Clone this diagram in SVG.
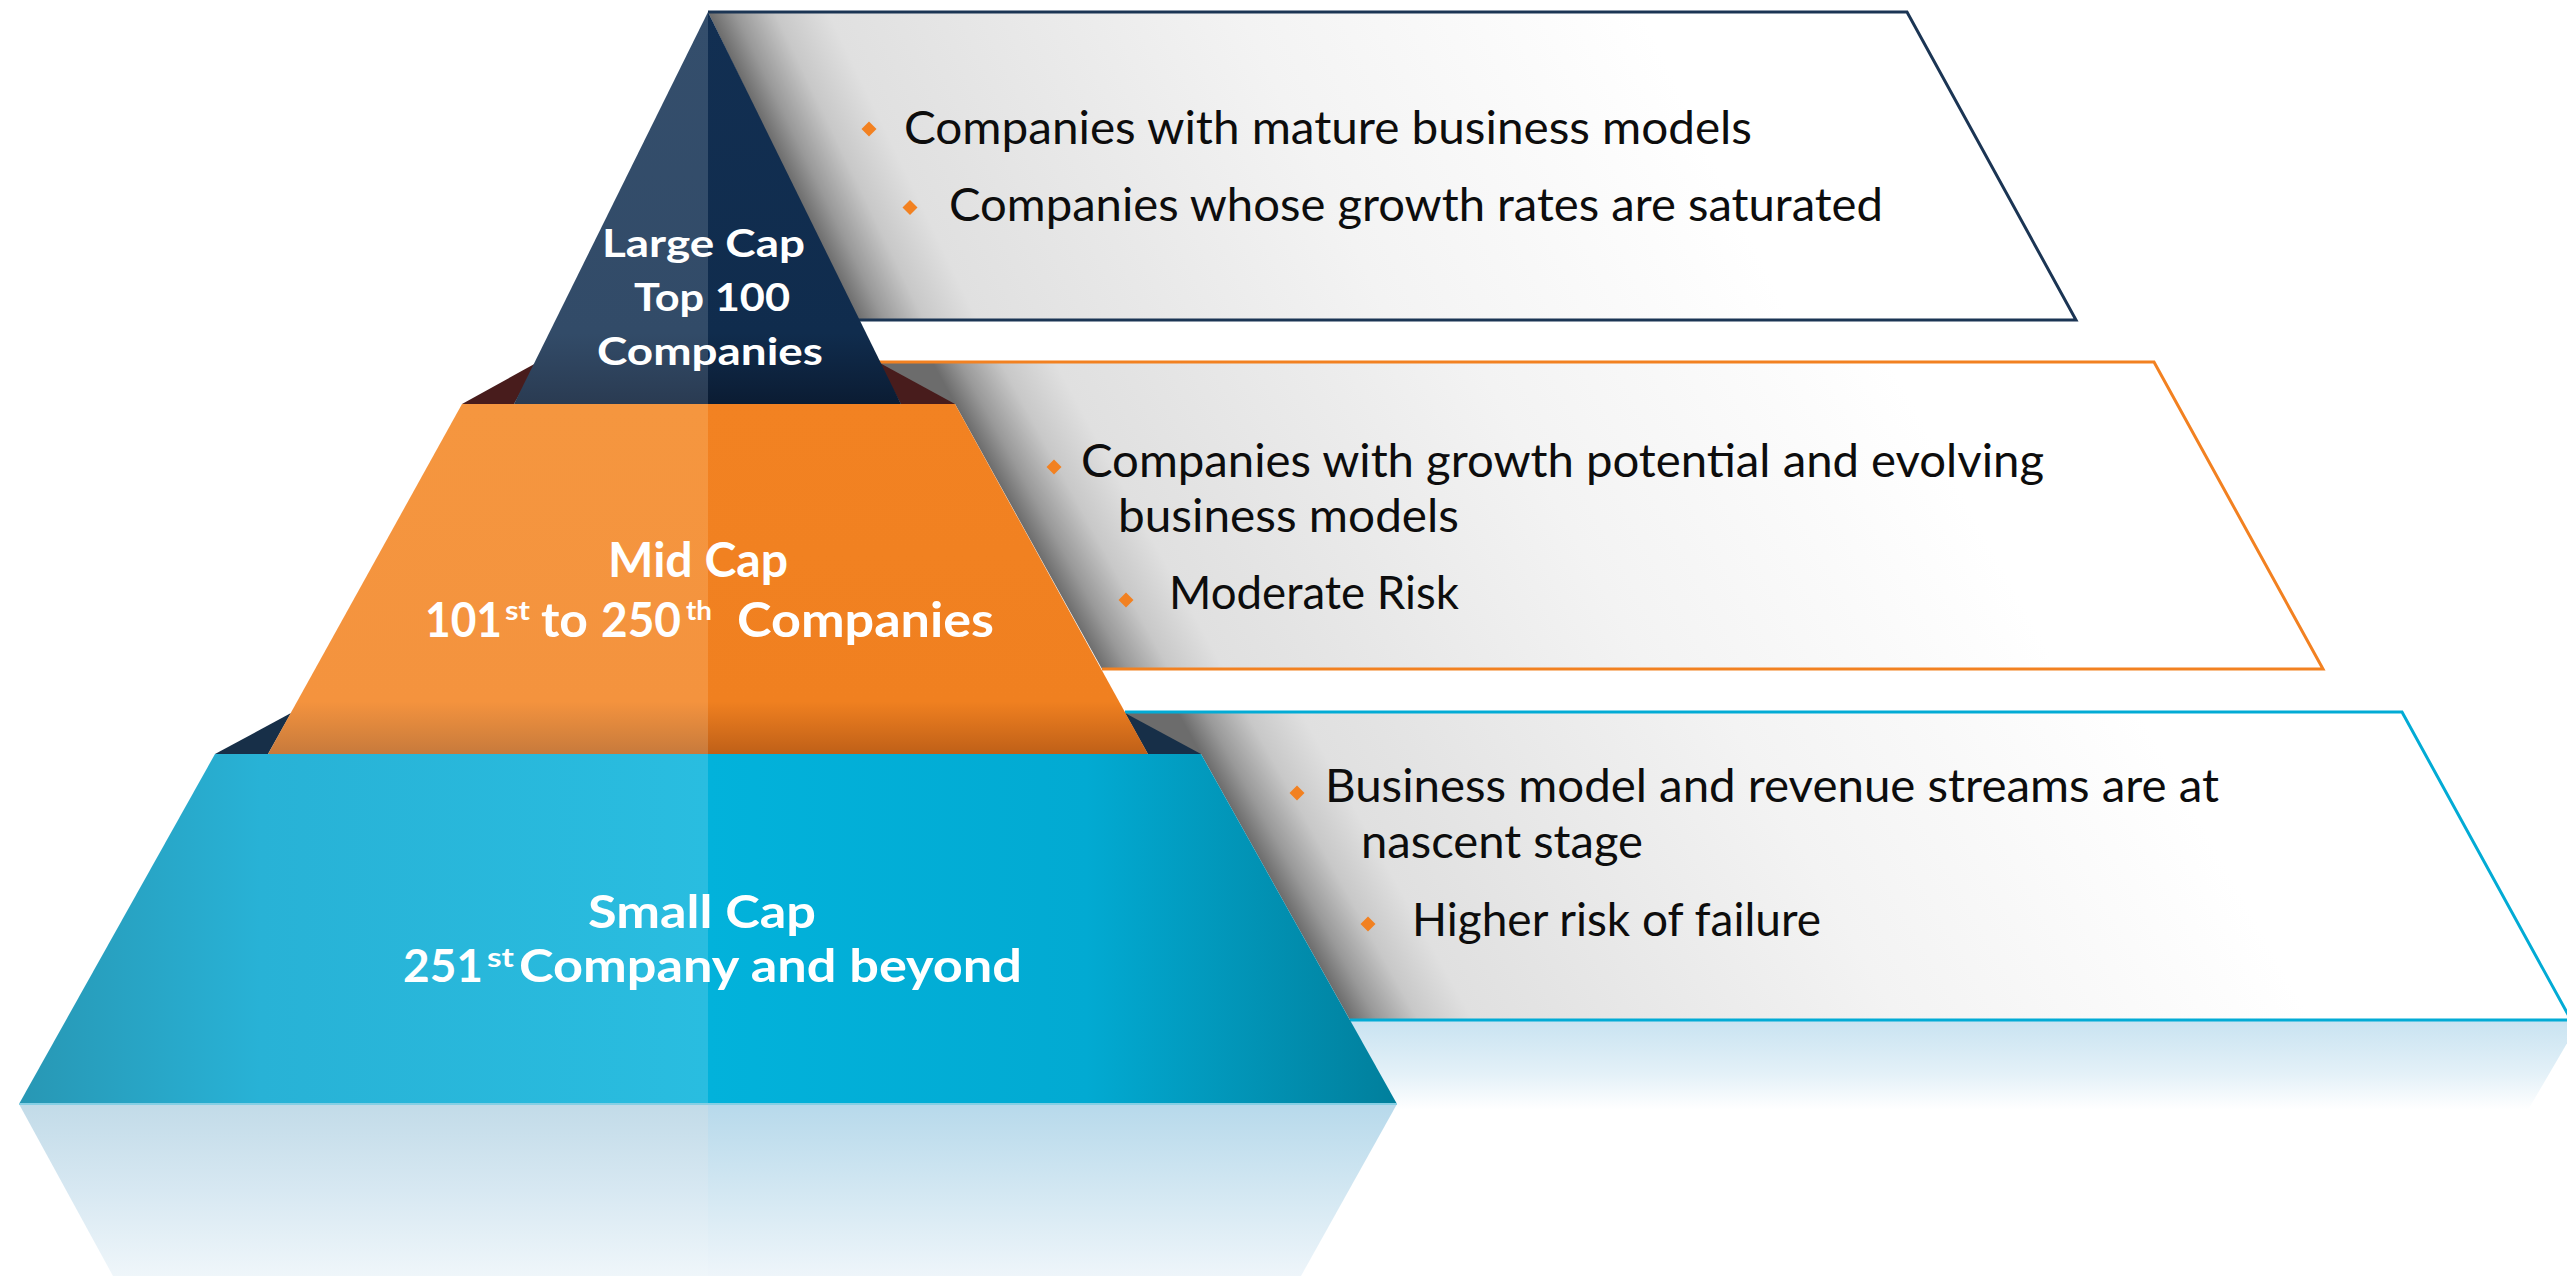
<svg xmlns="http://www.w3.org/2000/svg" width="2567" height="1276" viewBox="0 0 2567 1276">
<defs>
<style>
.ptxt{font-family:Lato,"Open Sans","Liberation Sans",sans-serif;font-size:46px;fill:#0d0d0d;}
.lbl{font-family:Lato,"Noto Sans","Liberation Sans",sans-serif;font-weight:700;fill:#ffffff;}
.bul{fill:#f28121;}
</style>
<linearGradient id="shNavy" gradientUnits="userSpaceOnUse" x1="780" y1="160" x2="1860" y2="-364">
<stop offset="0" stop-color="#6c6c6c"/><stop offset="0.02" stop-color="#999999"/><stop offset="0.05" stop-color="#c8c8c8"/><stop offset="0.09" stop-color="#e0e0e0"/><stop offset="0.4" stop-color="#f3f3f3"/><stop offset="0.7" stop-color="#ffffff"/>
</linearGradient>
<linearGradient id="shOrange" gradientUnits="userSpaceOnUse" x1="1030" y1="540" x2="2081" y2="-38">
<stop offset="0" stop-color="#6c6c6c"/><stop offset="0.02" stop-color="#999999"/><stop offset="0.05" stop-color="#c8c8c8"/><stop offset="0.09" stop-color="#e0e0e0"/><stop offset="0.4" stop-color="#f3f3f3"/><stop offset="0.7" stop-color="#ffffff"/>
</linearGradient>
<linearGradient id="shBlue" gradientUnits="userSpaceOnUse" x1="1277" y1="890" x2="2324" y2="304">
<stop offset="0" stop-color="#6c6c6c"/><stop offset="0.02" stop-color="#999999"/><stop offset="0.05" stop-color="#c8c8c8"/><stop offset="0.09" stop-color="#e0e0e0"/><stop offset="0.4" stop-color="#f3f3f3"/><stop offset="0.7" stop-color="#ffffff"/>
</linearGradient>
<linearGradient id="navyL" x1="0" y1="0" x2="0" y2="1">
<stop offset="0" stop-color="#344e6c"/><stop offset="0.82" stop-color="#324b68"/><stop offset="1" stop-color="#2a3b52"/>
</linearGradient>
<linearGradient id="navyR" x1="0" y1="0" x2="0" y2="1">
<stop offset="0" stop-color="#122f52"/><stop offset="0.82" stop-color="#102c4d"/><stop offset="1" stop-color="#0b1c33"/>
</linearGradient>
<linearGradient id="orL" x1="0" y1="0" x2="0" y2="1">
<stop offset="0" stop-color="#f5963f"/><stop offset="0.85" stop-color="#f4933e"/><stop offset="1" stop-color="#c77a3c"/>
</linearGradient>
<linearGradient id="orR" x1="0" y1="0" x2="0" y2="1">
<stop offset="0" stop-color="#f28222"/><stop offset="0.85" stop-color="#f08020"/><stop offset="1" stop-color="#bf6018"/>
</linearGradient>
<linearGradient id="blL" gradientUnits="userSpaceOnUse" x1="19" y1="0" x2="708" y2="0">
<stop offset="0" stop-color="#2897b4"/><stop offset="0.35" stop-color="#28b2d6"/><stop offset="1" stop-color="#29bde0"/>
</linearGradient>
<linearGradient id="blR" gradientUnits="userSpaceOnUse" x1="708" y1="0" x2="1397" y2="0">
<stop offset="0" stop-color="#02b2db"/><stop offset="0.55" stop-color="#02aad2"/><stop offset="1" stop-color="#017f9c"/>
</linearGradient>
<linearGradient id="reflL" x1="0" y1="0" x2="0" y2="1">
<stop offset="0" stop-color="#c2dbe8"/><stop offset="0.5" stop-color="#d7e8f2"/><stop offset="1" stop-color="#eff6fa"/>
</linearGradient>
<linearGradient id="reflR" x1="0" y1="0" x2="0" y2="1">
<stop offset="0" stop-color="#b7d9eb"/><stop offset="0.5" stop-color="#d2e7f2"/><stop offset="1" stop-color="#eef5fa"/>
</linearGradient>
<linearGradient id="reflP" x1="0" y1="0" x2="0" y2="1">
<stop offset="0" stop-color="#c9e3f1"/><stop offset="0.6" stop-color="#e4f1f8"/><stop offset="1" stop-color="#ffffff"/>
</linearGradient>
</defs>
<rect width="2567" height="1276" fill="#ffffff"/>

<!-- reflections -->
<g id="reflection">
<polygon points="1350,1021 2580,1021 2528,1110 1398,1110" fill="url(#reflP)"/>
<polygon points="19,1104 708,1104 708,1276 113,1276" fill="url(#reflL)"/>
<polygon points="708,1104 1397,1104 1301,1276 708,1276" fill="url(#reflR)"/>
</g>

<!-- panels -->
<g id="panel-large">
<polygon points="708,12 1907,12 2076,320 857,320" fill="url(#shNavy)"/>
<polyline points="708,12 1907,12 2076,320 857,320" fill="none" stroke="#1b3554" stroke-width="3"/>
<polygon class="bul" points="869,121.5 876.5,129 869,136.5 861.5,129"/>
<text class="ptxt" x="904" y="144" textLength="848" lengthAdjust="spacingAndGlyphs">Companies with mature business models</text>
<polygon class="bul" points="910,200 917.5,207.5 910,215 902.5,207.5"/>
<text class="ptxt" x="949" y="221" textLength="934" lengthAdjust="spacingAndGlyphs">Companies whose growth rates are saturated</text>
</g>

<g id="panel-mid">
<polygon points="878,362 2154,362 2323,669 1102,669 955,404 901,404" fill="url(#shOrange)"/>
<polyline points="878,362 2154,362 2323,669 1102,669" fill="none" stroke="#f28121" stroke-width="3"/>
<polygon class="bul" points="1054,459.5 1061.5,467 1054,474.5 1046.5,467"/>
<text class="ptxt" x="1081" y="477" textLength="963" lengthAdjust="spacingAndGlyphs">Companies with growth potential and evolving</text>
<text class="ptxt" x="1118" y="532" textLength="341" lengthAdjust="spacingAndGlyphs">business models</text>
<polygon class="bul" points="1126,592.5 1133.5,600 1126,607.5 1118.5,600"/>
<text class="ptxt" x="1169" y="609" textLength="290" lengthAdjust="spacingAndGlyphs">Moderate Risk</text>
</g>

<g id="panel-small">
<polygon points="1125,712 2402,712 2571,1020 1350,1020 1201,754 1148,754" fill="url(#shBlue)"/>
<polyline points="1125,712 2402,712 2571,1020 1350,1020" fill="none" stroke="#02abd5" stroke-width="3"/>
<polygon class="bul" points="1297,785.5 1304.5,793 1297,800.5 1289.5,793"/>
<text class="ptxt" x="1325" y="802" textLength="894" lengthAdjust="spacingAndGlyphs">Business model and revenue streams are at</text>
<text class="ptxt" x="1361" y="858" textLength="282" lengthAdjust="spacingAndGlyphs">nascent stage</text>
<polygon class="bul" points="1368,916.5 1375.5,924 1368,931.5 1360.5,924"/>
<text class="ptxt" x="1412" y="936" textLength="409" lengthAdjust="spacingAndGlyphs">Higher risk of failure</text>
</g>

<!-- pyramid tiers -->
<g id="node-small">
<polygon points="215,754 708,754 708,1104 19,1104" fill="url(#blL)"/>
<polygon points="708,754 1201,754 1397,1104 708,1104" fill="url(#blR)"/>
<line x1="19" y1="1104" x2="1397" y2="1104" stroke="#86cfe4" stroke-width="2"/>
<polygon points="215,754 291,713 268,754" fill="#172f48"/>
<polygon points="1125,713 1201,754 1148,754" fill="#172f48"/>
<text class="lbl" x="588" y="928" font-size="46" textLength="228" lengthAdjust="spacingAndGlyphs">Small Cap</text>
<text class="lbl" y="982" font-size="46"><tspan x="403" textLength="80" lengthAdjust="spacingAndGlyphs">251</tspan><tspan x="487" y="967" font-size="27" textLength="27" lengthAdjust="spacingAndGlyphs">st</tspan><tspan x="519" y="982" textLength="503" lengthAdjust="spacingAndGlyphs">Company and beyond</tspan></text>
</g>

<g id="node-mid">
<polygon points="462,404 708,404 708,754 268,754" fill="url(#orL)"/>
<polygon points="708,404 955,404 1148,754 708,754" fill="url(#orR)"/>
<polygon points="462,404 538,362 514,404" fill="#481c1c"/>
<polygon points="878,362 955,404 901,404" fill="#481c1c"/>
<text class="lbl" x="608" y="577" font-size="47" textLength="180" lengthAdjust="spacingAndGlyphs">Mid Cap</text>
<text class="lbl" y="637" font-size="47"><tspan x="425" textLength="77" lengthAdjust="spacingAndGlyphs">101</tspan><tspan x="505" y="620" font-size="27" textLength="25" lengthAdjust="spacingAndGlyphs">st</tspan><tspan x="541" y="637" textLength="47" lengthAdjust="spacingAndGlyphs">to</tspan><tspan x="601" textLength="80" lengthAdjust="spacingAndGlyphs">250</tspan><tspan x="686" y="620" font-size="27" textLength="26" lengthAdjust="spacingAndGlyphs">th</tspan><tspan x="737" y="637" textLength="257" lengthAdjust="spacingAndGlyphs">Companies</tspan></text>
</g>

<g id="node-large">
<polygon points="708,12 514,404 708,404" fill="url(#navyL)"/>
<polygon points="708,12 901,404 708,404" fill="url(#navyR)"/>
<text class="lbl" x="602" y="257" font-size="38" textLength="203" lengthAdjust="spacingAndGlyphs">Large Cap</text>
<text class="lbl" x="634" y="311" font-size="38" textLength="156" lengthAdjust="spacingAndGlyphs">Top 100</text>
<text class="lbl" x="597" y="365" font-size="38" textLength="226" lengthAdjust="spacingAndGlyphs">Companies</text>
</g>

<g id="connectors"/>
</svg>
